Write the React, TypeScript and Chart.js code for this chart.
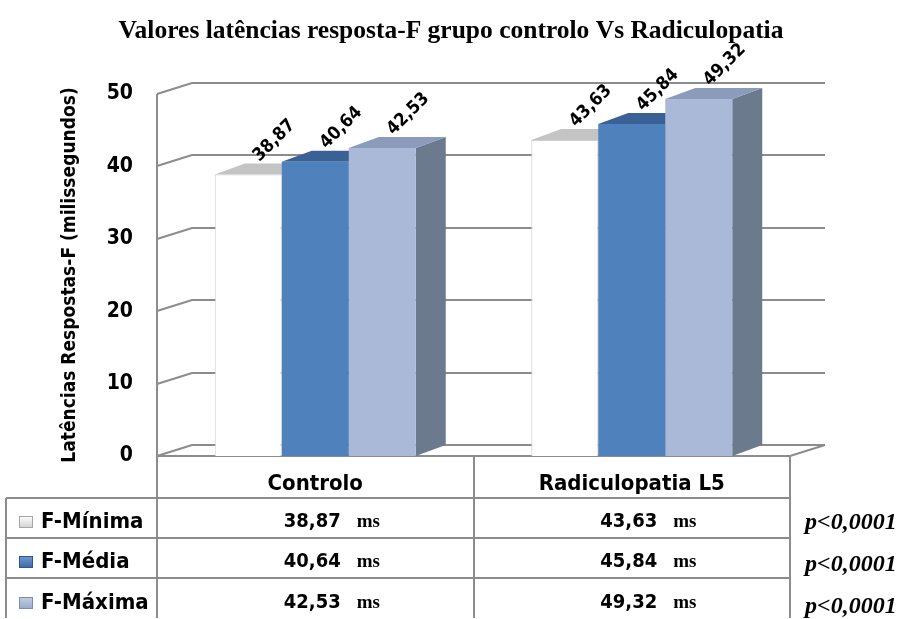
import React, { useEffect, useRef } from 'react';
import { Chart, registerables } from 'chart.js';

Chart.register(...registerables);

const chartTitle = 'Valores latências resposta-F grupo controlo Vs Radiculopatia';
const yAxisTitle = 'Latências Respostas-F (milissegundos)';
const categories = ['Controlo', 'Radiculopatia L5'];
const seriesNames = ['F-Mínima', 'F-Média', 'F-Máxima'];
const fMinima = [38.87, 43.63];
const fMedia = [40.64, 45.84];
const fMaxima = [42.53, 49.32];
const pValues = ['p<0,0001', 'p<0,0001', 'p<0,0001'];
const unitLabel = 'ms';
const yMin = 0;
const yMax = 50;
const yStep = 10;

const frontColors = ['#FFFFFF', '#4F81BD', '#AAB9D7'];
const topColors = ['#C4C4C4', '#3A6196', '#8B9BBB'];
const sideColors = ['#D9D9D9', '#385D8A', '#6C7A8E'];
const iconColors = [['#FFFFFF', '#D0D0D0', '#A6A6A6'], ['#6E9BD3', '#3B68A2', '#2F5686'], ['#C5D0E6', '#98A8C8', '#7D8CA8']];

const WALL_DX = 35;
const WALL_DY = -11;
const BAR_DX = 30;
const BAR_DY = -11;
const SANS = '"DejaVu Sans Condensed"';
const SERIF = '"Liberation Serif"';

const fmt = (v: number) => v.toFixed(2).replace('.', ',');

function poly(ctx: CanvasRenderingContext2D, pts: number[][]) {
  ctx.beginPath();
  ctx.moveTo(pts[0][0], pts[0][1]);
  for (let i = 1; i < pts.length; i++) ctx.lineTo(pts[i][0], pts[i][1]);
  ctx.closePath();
  ctx.fill();
}

const threeD = {
  id: 'threeD',
  beforeDatasetsDraw(chart: any) {
    const { ctx, chartArea: a, scales } = chart;
    const ys = scales.y;
    ctx.save();
    ctx.strokeStyle = '#8C8C8C';
    ctx.lineWidth = 2;
    ys.ticks.forEach((t: any) => {
      const py = Math.round(ys.getPixelForValue(t.value));
      ctx.beginPath();
      ctx.moveTo(a.left, py);
      ctx.lineTo(a.left + WALL_DX, py + WALL_DY);
      ctx.lineTo(a.right + WALL_DX, py + WALL_DY);
      ctx.stroke();
    });
    const pb = Math.round(ys.getPixelForValue(yMin));
    ctx.beginPath();
    ctx.moveTo(a.left, pb);
    ctx.lineTo(a.right, pb);
    ctx.lineTo(a.right + WALL_DX, pb + WALL_DY);
    ctx.stroke();
    ctx.beginPath();
    ctx.moveTo(a.left, Math.round(ys.getPixelForValue(yMax)));
    ctx.lineTo(a.left, pb);
    ctx.stroke();

    chart.data.datasets.forEach((ds: any, di: number) => {
      const meta = chart.getDatasetMeta(di);
      meta.data.forEach((el: any) => {
        const { x, y, width, base } = el.getProps(['x', 'y', 'width', 'base'], true);
        const l = x - width / 2;
        const r = x + width / 2;
        ctx.fillStyle = sideColors[di];
        poly(ctx, [[r, y], [r + BAR_DX, y + BAR_DY], [r + BAR_DX, base + BAR_DY], [r, base]]);
        ctx.fillStyle = topColors[di];
        poly(ctx, [[l, y], [r, y], [r + BAR_DX, y + BAR_DY], [l + BAR_DX, y + BAR_DY]]);
      });
    });
    ctx.restore();
  },
  afterDatasetsDraw(chart: any) {
    const { ctx } = chart;
    ctx.save();
    ctx.font = `bold 18px ${SANS}`;
    ctx.fillStyle = '#000';
    ctx.textAlign = 'center';
    ctx.textBaseline = 'middle';
    chart.data.datasets.forEach((ds: any, di: number) => {
      const meta = chart.getDatasetMeta(di);
      meta.data.forEach((el: any, i: number) => {
        const { x, y } = el.getProps(['x', 'y'], true);
        ctx.save();
        ctx.translate(x + 26, y - 34);
        ctx.rotate(-Math.PI / 4);
        ctx.fillText(fmt(ds.data[i]), 0, 0);
        ctx.restore();
      });
    });
    ctx.restore();
  },
  afterDraw(chart: any) {
    const { ctx, chartArea: a, scales, width } = chart;
    const xs = scales.x;
    const top = Math.round(scales.y.getPixelForValue(yMin));
    const headerBottom = top + 42;
    const rowH = 40;
    const tableLeft = 6;
    const bottom = headerBottom + rowH * seriesNames.length;
    const catW = (a.right - a.left) / categories.length;
    ctx.save();

    // chart title
    ctx.fillStyle = '#000';
    ctx.textAlign = 'center';
    ctx.textBaseline = 'middle';
    ctx.font = `bold 25.5px ${SERIF}`;
    ctx.fillText(chartTitle, width / 2, 31);

    ctx.strokeStyle = '#8C8C8C';
    ctx.lineWidth = 2;
    ctx.beginPath();
    for (let i = 0; i <= categories.length; i++) {
      const bx = Math.round(a.left + i * catW);
      ctx.moveTo(bx, top);
      ctx.lineTo(bx, bottom);
    }
    ctx.moveTo(tableLeft, headerBottom);
    ctx.lineTo(tableLeft, bottom);
    for (let r = 0; r < seriesNames.length; r++) {
      const ry = headerBottom + r * rowH;
      ctx.moveTo(tableLeft, ry);
      ctx.lineTo(a.right, ry);
    }
    ctx.stroke();

    ctx.fillStyle = '#000';
    ctx.textBaseline = 'alphabetic';
    ctx.textAlign = 'center';
    ctx.font = `bold 22px ${SANS}`;
    categories.forEach((c, i) => {
      ctx.fillText(c, xs.getPixelForValue(i), top + 34);
    });

    const seriesData = [fMinima, fMedia, fMaxima];
    seriesNames.forEach((name, r) => {
      const baseY = headerBottom + r * rowH + 30 + (r === 2 ? 1 : 0);
      const [c1, c2, c3] = iconColors[r];
      const g = ctx.createLinearGradient(0, baseY - 12, 0, baseY);
      g.addColorStop(0, c1);
      g.addColorStop(1, c2);
      ctx.fillStyle = g;
      ctx.fillRect(19, baseY - 12, 14, 12);
      ctx.strokeStyle = c3;
      ctx.lineWidth = 1;
      ctx.strokeRect(19.5, baseY - 11.5, 13, 11);
      ctx.fillStyle = '#000';
      ctx.textAlign = 'left';
      ctx.font = `bold 22px ${SANS}`;
      ctx.fillText(name, 41, baseY);

      seriesData[r].forEach((v, i) => {
        const numTxt = fmt(v);
        ctx.font = `bold 20px ${SANS}`;
        const cx = xs.getPixelForValue(i) - 3;
        ctx.textAlign = 'center';
        ctx.fillText(numTxt, cx, baseY - 1);
        const w1 = ctx.measureText(numTxt).width;
        ctx.textAlign = 'left';
        ctx.font = `bold 19px ${SERIF}`;
        ctx.fillText(unitLabel, cx + w1 / 2 + 16, baseY - 1);
      });

      ctx.font = `italic bold 24px ${SERIF}`;
      ctx.textAlign = 'left';
      ctx.fillText(pValues[r], a.right + 15, baseY + 1 + r * 1.5);
    });
    ctx.restore();
  },
};

export default function App() {
  const ref = useRef<HTMLCanvasElement>(null);
  useEffect(() => {
    document.body.style.margin = '0';
    const canvas = ref.current;
    if (!canvas) return;
    const chart = new Chart(canvas, {
      type: 'bar',
      data: {
        labels: categories,
        datasets: [
          { label: seriesNames[0], data: fMinima, backgroundColor: frontColors[0], borderColor: '#D0D0D0', borderWidth: 1 },
          { label: seriesNames[1], data: fMedia, backgroundColor: frontColors[1], borderWidth: 0 },
          { label: seriesNames[2], data: fMaxima, backgroundColor: frontColors[2], borderWidth: 0 },
        ],
      },
      options: {
        responsive: false,
        animation: false,
        layout: { padding: { left: 55, right: 112, top: 94, bottom: 163 } },
        datasets: { bar: { categoryPercentage: 0.635, barPercentage: 1 } },
        plugins: {
          legend: { display: false },
          tooltip: { enabled: false },
          title: { display: false },
        },
        scales: {
          x: { display: false },
          y: {
            min: yMin,
            max: yMax,
            ticks: { stepSize: yStep, color: '#000', font: { family: 'DejaVu Sans Condensed', size: 21, weight: 'bold' }, padding: 24 },
            grid: { display: false, drawTicks: false },
            border: { display: false },
            title: {
              display: true,
              text: yAxisTitle,
              color: '#000',
              font: { family: 'DejaVu Sans Condensed', size: 19, weight: 'bold' },
              padding: { top: 4, bottom: 0 },
            },
            afterFit: (s: any) => {
              s.width = 102;
            },
          },
        },
      },
      plugins: [threeD],
    } as any);
    return () => chart.destroy();
  }, []);
  return (
    <div style={{ position: 'relative', width: 902, height: 619 }}>
      <canvas ref={ref} width={902} height={619} />
    </div>
  );
}
